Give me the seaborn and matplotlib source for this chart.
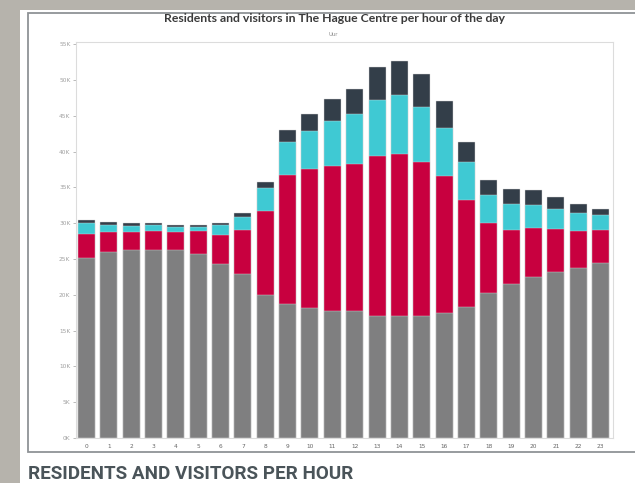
import numpy as np
import matplotlib
matplotlib.use('Agg')
import matplotlib.pyplot as plt
import matplotlib.patches as mpatches
import pandas as pd
import seaborn as sns

# data (people per hour)
hours = list(range(24))
residents = [25100, 26000, 26200, 26200, 26200, 25700, 24300, 22900, 20000, 18700, 18200, 17700,
             17700, 17100, 17000, 17000, 17400, 18300, 20200, 21500, 22500, 23200, 23800, 24400]
group2 = [3400, 2800, 2600, 2700, 2600, 3200, 4000, 6200, 11700, 18000, 19300, 20300,
          20600, 22300, 22600, 21500, 19200, 15000, 9800, 7600, 6800, 6000, 5100, 4700]
group3 = [1500, 1000, 800, 800, 650, 600, 1400, 1700, 3200, 4600, 5350, 6200,
          7000, 7800, 8300, 7700, 6700, 5200, 4000, 3600, 3200, 2800, 2500, 2000]
group4 = [400, 400, 450, 350, 250, 200, 350, 600, 800, 1650, 2350, 3100,
          3400, 4600, 4800, 4600, 3700, 2800, 2000, 2100, 2100, 1700, 1300, 900]
series_names = ['Bewoners', 'Groep 2', 'Groep 3', 'Groep 4']
colors = ['#7f7f80', '#c8003f', '#3fc9d3', '#333e49']
yticks = list(range(0, 55001, 5000))
ytick_labels = [f'{v // 1000}K' for v in yticks]

df = pd.DataFrame({'uur': hours, series_names[0]: residents, series_names[1]: group2,
                   series_names[2]: group3, series_names[3]: group4})
# cumulative tops so seaborn can draw the stack back to front
cum = df[series_names].cumsum(axis=1)

fig = plt.figure(figsize=(6.35, 4.83), dpi=100, facecolor='#b6b3ac')

# white panel and framed chart card (behind the axes)
fig.add_artist(mpatches.Rectangle((20 / 635, 0), 1, (483 - 10) / 483, transform=fig.transFigure,
                                  facecolor='white', edgecolor='none', zorder=-10))
fig.add_artist(mpatches.Rectangle((28 / 635, 1 - 452 / 483), 1, (452 - 13) / 483, transform=fig.transFigure,
                                  facecolor='white', edgecolor='#8f9396', linewidth=1.3, zorder=-9))

ax = fig.add_axes([76 / 635, 1 - 438 / 483, (613 - 76) / 635, (438 - 42) / 483])
for name, col in zip(reversed(series_names), reversed(colors)):
    sns.barplot(x=df['uur'], y=cum[name], color=col, width=0.76, saturation=1,
                edgecolor='#d8d8d8', linewidth=0.3, ax=ax)

ax.set_xlim(-0.47, 23.56)
ax.set_ylim(0, 55300)
ax.set_yticks(yticks)
ax.set_yticklabels(ytick_labels)
ax.set_xlabel('')
ax.set_ylabel('')
ax.tick_params(axis='y', labelsize=4.2, colors='#a0a0a0', length=2, width=0.5, pad=2)
ax.tick_params(axis='x', labelsize=4.2, colors='#666666', length=0, pad=4)
for s in ax.spines.values():
    s.set_color('#dcdcdc')
    s.set_linewidth(0.8)

fig.text(335 / 635, 1 - 19 / 483, 'Residents and visitors in The Hague Centre per hour of the day',
         ha='center', va='center', fontsize=8.8, family='Lato', fontweight='bold', color='#3a3a3a')
fig.text(333 / 635, 1 - 34 / 483, 'Uur', ha='center', va='center', fontsize=3.8, color='#8a8a8a')
fig.text(28 / 635, 1 - 474 / 483, 'RESIDENTS AND VISITORS PER HOUR', ha='left', va='center',
         fontsize=13.6, family='Roboto', fontweight='bold', color='#4a5459')

fig.savefig('out.png', dpi=100, facecolor=fig.get_facecolor())
